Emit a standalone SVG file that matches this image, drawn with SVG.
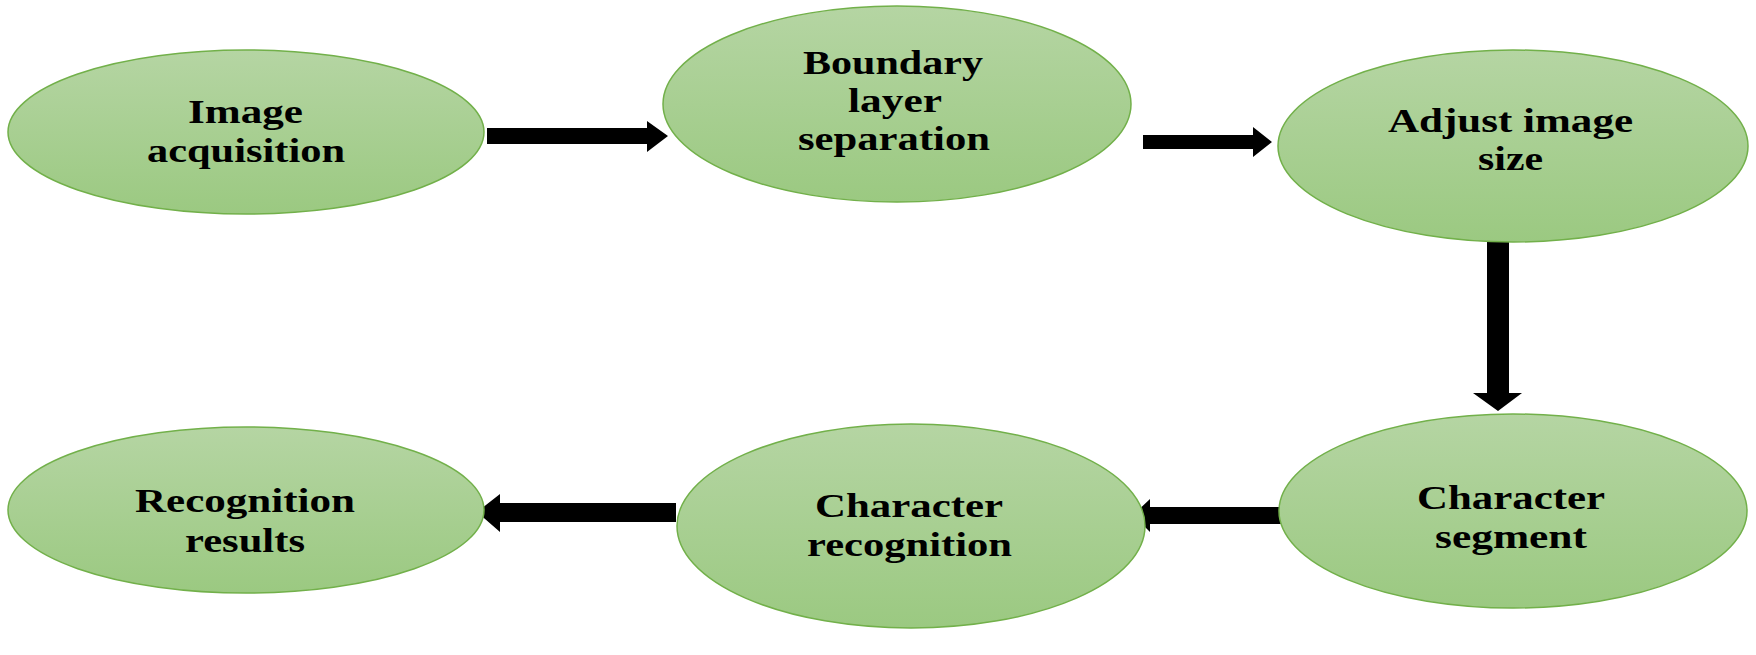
<svg xmlns="http://www.w3.org/2000/svg" width="1756" height="655" viewBox="0 0 1756 655">
  <defs>
    <linearGradient id="g" x1="0" y1="0" x2="0" y2="1">
      <stop offset="0" stop-color="#b5d5a3"/>
      <stop offset="1" stop-color="#9bc981"/>
    </linearGradient>
    <style>
      .node { fill: url(#g); stroke: #72b04a; stroke-width: 1.5; }
      .lbl { font-family: "Liberation Serif", "Times New Roman", serif; font-weight: bold; font-size: 33px; fill: #000; }
      .arrow { fill: #000; }
    </style>
  </defs>
  <rect width="1756" height="655" fill="#fff"/>

  <g id="connectors">
    <polygon class="arrow" points="487,128 647,128 647,121 668,136 647,152 647,144 487,144"/>
    <polygon class="arrow" points="1143,135 1253,135 1253,127 1272,142 1253,157 1253,149 1143,149"/>
    <polygon class="arrow" points="1487,242 1509,242 1509,393 1522,393 1498,411 1473,393 1487,393"/>
    <polygon class="arrow" points="1285,507 1150,507 1150,499 1133,515 1150,532 1150,524 1285,524"/>
    <polygon class="arrow" points="676,503 500,503 500,494 477,512 500,532 500,522 676,522"/>
  </g>

  <g id="node-image-acquisition">
    <ellipse class="node" cx="246" cy="132" rx="238" ry="82"/>
    <text class="lbl" x="188" y="123" textLength="115" lengthAdjust="spacingAndGlyphs">Image</text>
    <text class="lbl" x="147" y="162" textLength="198" lengthAdjust="spacingAndGlyphs">acquisition</text>
  </g>

  <g id="node-boundary">
    <ellipse class="node" cx="897" cy="104" rx="234" ry="98"/>
    <text class="lbl" x="803" y="74" textLength="180" lengthAdjust="spacingAndGlyphs">Boundary</text>
    <text class="lbl" x="848" y="112" textLength="94" lengthAdjust="spacingAndGlyphs">layer</text>
    <text class="lbl" x="798" y="150" textLength="192" lengthAdjust="spacingAndGlyphs">separation</text>
  </g>

  <g id="node-adjust">
    <ellipse class="node" cx="1513" cy="146" rx="235" ry="96"/>
    <text class="lbl" x="1388" y="132" textLength="245" lengthAdjust="spacingAndGlyphs">Adjust image</text>
    <text class="lbl" x="1478" y="170" textLength="65" lengthAdjust="spacingAndGlyphs">size</text>
  </g>

  <g id="node-segment">
    <ellipse class="node" cx="1513" cy="511" rx="234" ry="97"/>
    <text class="lbl" x="1417" y="509" textLength="188" lengthAdjust="spacingAndGlyphs">Character</text>
    <text class="lbl" x="1435" y="548" textLength="152" lengthAdjust="spacingAndGlyphs">segment</text>
  </g>

  <g id="node-char-recognition">
    <ellipse class="node" cx="911" cy="526" rx="234" ry="102"/>
    <text class="lbl" x="815" y="517" textLength="188" lengthAdjust="spacingAndGlyphs">Character</text>
    <text class="lbl" x="807" y="556" textLength="205" lengthAdjust="spacingAndGlyphs">recognition</text>
  </g>

  <g id="node-results">
    <ellipse class="node" cx="246" cy="510" rx="238" ry="83"/>
    <text class="lbl" x="135" y="512" textLength="220" lengthAdjust="spacingAndGlyphs">Recognition</text>
    <text class="lbl" x="185" y="552" textLength="120" lengthAdjust="spacingAndGlyphs">results</text>
  </g>
</svg>
